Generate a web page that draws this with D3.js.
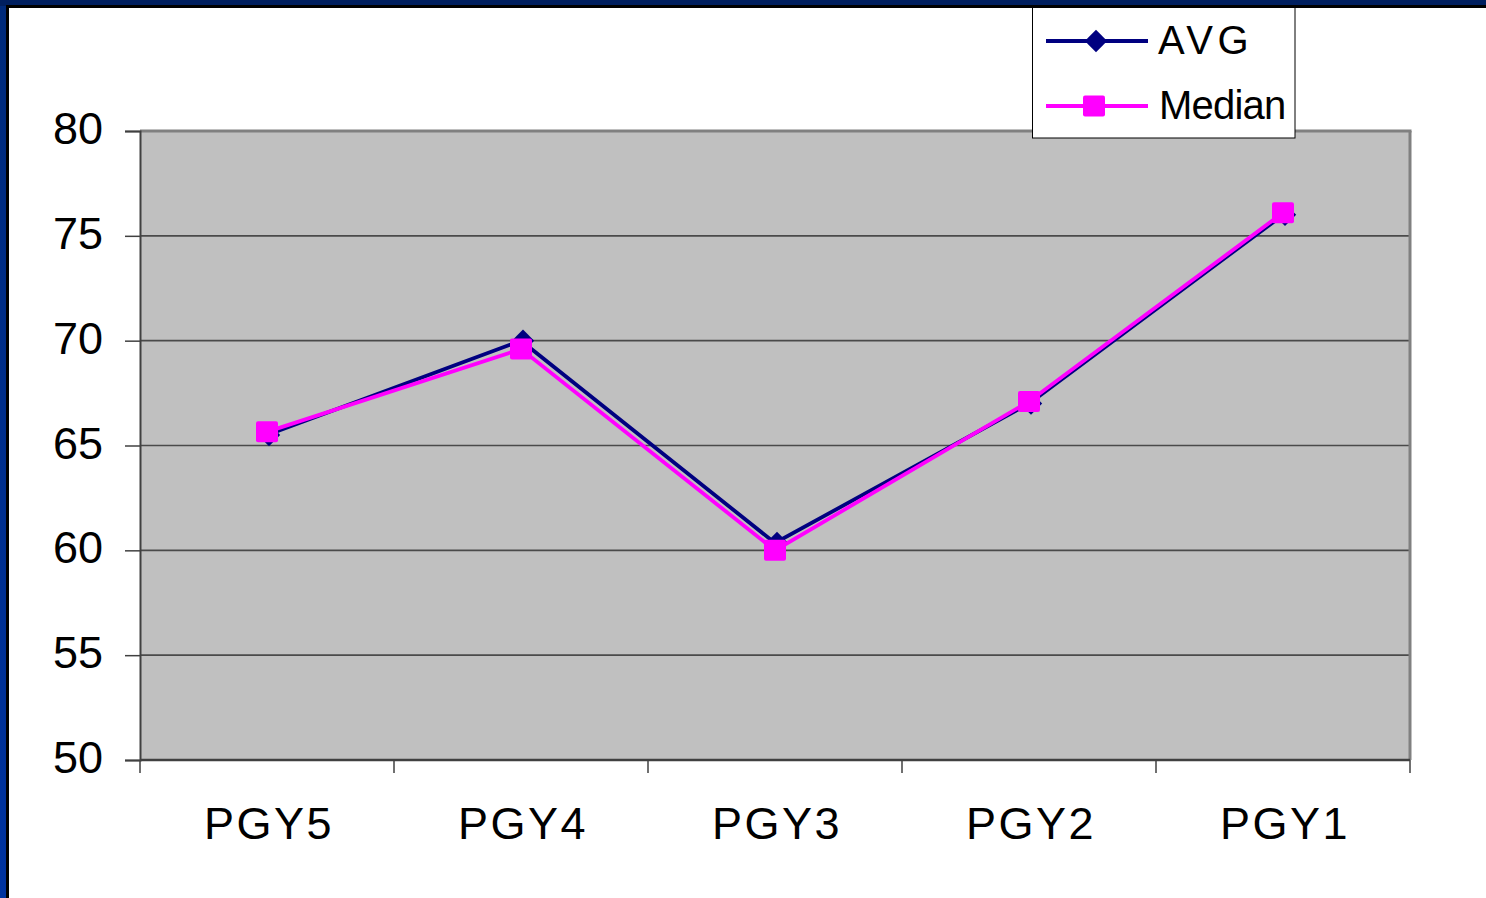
<!DOCTYPE html>
<html><head><meta charset="utf-8">
<script src="https://cdn.jsdelivr.net/npm/d3@7"></script>
<style>html,body{margin:0;padding:0;background:#fff;overflow:hidden}svg{display:block}text{font-family:"Liberation Sans",Arial,sans-serif}</style>
</head><body>
<script>
const categories = ["PGY5","PGY4","PGY3","PGY2","PGY1"];
const avgValues = [65.5, 70.0, 60.35, 67.0, 76.0];
const medianValues = [65.65, 69.6, 60.0, 67.1, 76.1];
const yTicks = [50,55,60,65,70,75,80];
const seriesNames = ["AVG","Median"];

(function(){
const W = 1486, H = 898;
const svg = d3.select("body").append("svg").attr("width", W).attr("height", H);

// slide frame
const grad = svg.append("defs").append("linearGradient").attr("id","lg").attr("x1",0).attr("x2",0).attr("y1",0).attr("y2",1);
grad.append("stop").attr("offset","0%").attr("stop-color","#002a7a");
grad.append("stop").attr("offset","100%").attr("stop-color","#0033a0");
svg.append("rect").attr("x",0).attr("y",0).attr("width",W).attr("height",H).attr("fill","#fff");
svg.append("rect").attr("x",0).attr("y",0).attr("width",7).attr("height",H).attr("fill","url(#lg)");
svg.append("rect").attr("x",6).attr("y",5).attr("width",3).attr("height",H).attr("fill","#000");

const pLeft = 140, pRight = 1410, pTop = 131, pBottom = 760;
const x = d3.scaleBand().domain(categories).range([pLeft, pRight]);
const y = d3.scaleLinear().domain([50, 80]).range([pBottom, pTop]);

// plot area
svg.append("rect").attr("x",pLeft).attr("y",pTop).attr("width",pRight-pLeft).attr("height",pBottom-pTop).attr("fill","#c0c0c0");
svg.append("g").selectAll("line").data(yTicks.filter(t=>t>50 && t<80)).join("line")
  .attr("x1",pLeft).attr("x2",pRight).attr("y1",d=>y(d)).attr("y2",d=>y(d))
  .attr("stroke","#4a4a4a").attr("stroke-width",1.6);
svg.append("line").attr("x1",pLeft).attr("x2",pRight+1.5).attr("y1",pTop).attr("y2",pTop).attr("stroke","#808080").attr("stroke-width",3);
svg.append("line").attr("x1",pRight).attr("x2",pRight).attr("y1",pTop).attr("y2",pBottom).attr("stroke","#808080").attr("stroke-width",3);

// y axis
const yAxis = d3.axisLeft(y).tickValues(yTicks).tickSize(15).tickPadding(22);
const gy = svg.append("g").attr("transform",`translate(${pLeft},0)`).call(yAxis);
gy.select(".domain").attr("stroke","#404040").attr("stroke-width",2);
gy.selectAll(".tick line").attr("stroke","#404040").attr("stroke-width",1.5);
gy.selectAll(".tick text").attr("font-size",45).attr("fill","#000").attr("font-family","Liberation Sans, Arial, sans-serif").attr("dy","0.28em");

// x axis
const gx = svg.append("g").attr("transform",`translate(0,${pBottom})`);
gx.append("line").attr("x1",pLeft).attr("x2",pRight).attr("y1",0).attr("y2",0).attr("stroke","#404040").attr("stroke-width",2.5);
const edges = categories.map(c=>x(c)).concat([pRight]);
gx.selectAll("line.t").data(edges).join("line").attr("class","t")
  .attr("x1",d=>d).attr("x2",d=>d).attr("y1",0).attr("y2",13).attr("stroke","#404040").attr("stroke-width",1.5);
gx.selectAll("text").data(categories).join("text")
  .attr("x",d=>x(d)+x.bandwidth()/2+2).attr("y",79)
  .attr("text-anchor","middle").attr("font-size",45).attr("letter-spacing","2.5px").attr("fill","#000").text(d=>d);

const cx = d => x(d) + x.bandwidth()/2;
const line = d3.line().x(d=>cx(d.c)).y(d=>y(d.v));
const avgData = categories.map((c,i)=>({c, v: avgValues[i]}));
const medData = categories.map((c,i)=>({c, v: medianValues[i]}));
const diamond = d3.symbol().type(d3.symbolDiamond2).size(320)();

svg.append("path").datum(avgData).attr("d",line).attr("fill","none").attr("stroke","#000080").attr("stroke-width",3.8);
svg.append("g").selectAll("path").data(avgData).join("path")
  .attr("d", diamond)
  .attr("transform", d=>`translate(${cx(d.c)+2},${y(d.v)})`)
  .attr("fill","#000080");
svg.append("path").datum(medData).attr("d",line).attr("fill","none").attr("stroke","#ff00ff").attr("stroke-width",3.8);
svg.append("g").selectAll("rect").data(medData).join("rect")
  .attr("x", d=>cx(d.c)-11).attr("y", d=>y(d.v)-10.5).attr("width",22).attr("height",21).attr("rx",2)
  .attr("fill","#ff00ff");

// legend
const lg = svg.append("g");
lg.append("rect").attr("x",1032.5).attr("y",4).attr("width",262.5).attr("height",134).attr("fill","#fff").attr("stroke","#000").attr("stroke-width",1);
const ly = [41, 106];
lg.append("line").attr("x1",1046).attr("x2",1148).attr("y1",ly[0]).attr("y2",ly[0]).attr("stroke","#000080").attr("stroke-width",3.8);
lg.append("path").attr("d", diamond).attr("transform",`translate(1096,${ly[0]})`).attr("fill","#000080");
lg.append("line").attr("x1",1046).attr("x2",1148).attr("y1",ly[1]).attr("y2",ly[1]).attr("stroke","#ff00ff").attr("stroke-width",3.8);
lg.append("rect").attr("x",1083).attr("y",ly[1]-10.5).attr("width",22).attr("height",21).attr("rx",2).attr("fill","#ff00ff");
lg.append("text").attr("x",1158).attr("y",ly[0]+13).attr("font-size",40).attr("letter-spacing","4.5px").text(seriesNames[0]);
lg.append("text").attr("x",1159).attr("y",ly[1]+13).attr("font-size",40).attr("letter-spacing","-0.8px").text(seriesNames[1]);

// top frame drawn over legend
svg.append("rect").attr("x",0).attr("y",0).attr("width",W).attr("height",6).attr("fill","#001f5f");
svg.append("rect").attr("x",6).attr("y",5).attr("width",W).attr("height",3).attr("fill","#000");
})();
</script>
</body></html>
